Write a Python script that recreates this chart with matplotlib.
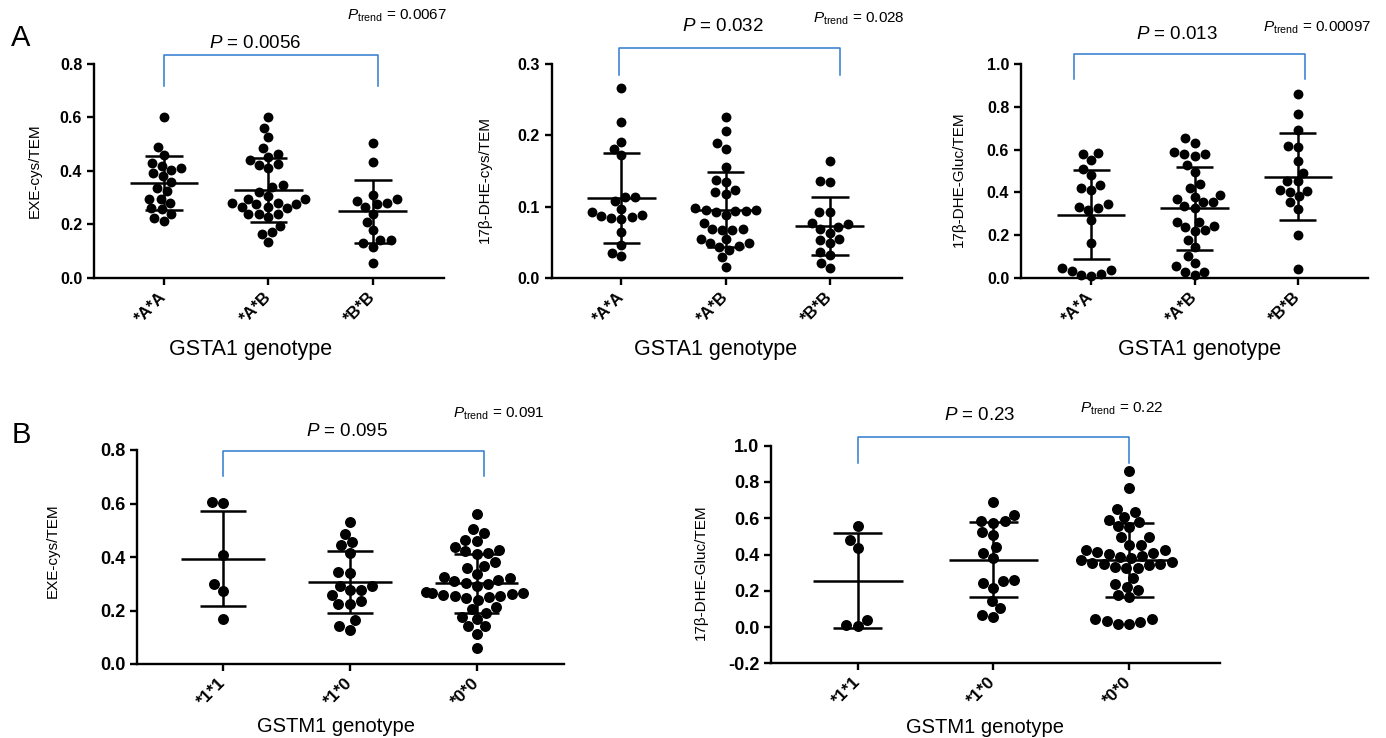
import numpy as np
import matplotlib
matplotlib.use('Agg')
import matplotlib.pyplot as plt
import matplotlib.transforms as mtransforms
import seaborn as sns

plt.rcParams['font.family'] = ['Liberation Sans', 'DejaVu Sans']
plt.rcParams['mathtext.fontset'] = 'custom'
plt.rcParams['mathtext.rm'] = 'Liberation Sans'
plt.rcParams['mathtext.it'] = 'Liberation Sans:italic'
plt.rcParams['mathtext.bf'] = 'Liberation Sans:bold'

# --- categories ---
gsta1_labels = ['*A*A', '*A*B', '*B*B']
gstm1_labels = ['*1*1', '*1*0', '*0*0']

# --- A: EXE-cys/TEM by GSTA1 ---
exe_gsta1_AA = [0.601, 0.489, 0.458, 0.429, 0.411, 0.404, 0.420, 0.391, 0.383, 0.360,
                0.336, 0.326, 0.297, 0.280, 0.296, 0.261, 0.259, 0.241, 0.213, 0.224]
exe_gsta1_AB = [0.603, 0.560, 0.527, 0.486, 0.464, 0.454, 0.427, 0.421, 0.442, 0.411,
                0.346, 0.341, 0.323, 0.307, 0.296, 0.296, 0.280, 0.275, 0.267, 0.261,
                0.267, 0.275, 0.282, 0.239, 0.228, 0.239, 0.239, 0.193, 0.172, 0.164, 0.136]
exe_gsta1_BB = [0.503, 0.433, 0.312, 0.295, 0.280, 0.265, 0.275, 0.287, 0.241, 0.209,
                0.178, 0.143, 0.129, 0.117, 0.143, 0.056]
exe_gsta1_mean = [0.355, 0.329, 0.249]
exe_gsta1_sd = [0.100, 0.121, 0.118]

# --- A: 17b-DHE-cys/TEM by GSTA1 ---
dhecys_gsta1_AA = [0.266, 0.219, 0.190, 0.181, 0.172, 0.113, 0.114, 0.108, 0.097, 0.093,
                   0.089, 0.085, 0.083, 0.084, 0.087, 0.064, 0.046, 0.031, 0.035]
dhecys_gsta1_AB = [0.225, 0.206, 0.189, 0.181, 0.156, 0.138, 0.134, 0.123, 0.118, 0.120,
                   0.096, 0.094, 0.093, 0.089, 0.094, 0.095, 0.098, 0.077, 0.068, 0.067,
                   0.067, 0.068, 0.054, 0.049, 0.043, 0.039, 0.045, 0.049, 0.055, 0.029, 0.016]
dhecys_gsta1_BB = [0.164, 0.136, 0.134, 0.092, 0.092, 0.075, 0.077, 0.072, 0.069, 0.063,
                   0.053, 0.054, 0.049, 0.036, 0.032, 0.021, 0.014]
dhecys_gsta1_mean = [0.112, 0.096, 0.073]
dhecys_gsta1_sd = [0.063, 0.053, 0.041]

# --- A: 17b-DHE-Gluc/TEM by GSTA1 ---
gluc_gsta1_AA = [0.585, 0.552, 0.579, 0.509, 0.482, 0.434, 0.420, 0.411, 0.345, 0.328,
                 0.334, 0.316, 0.272, 0.163, 0.036, 0.019, 0.008, 0.014, 0.034, 0.048]
gluc_gsta1_AB = [0.653, 0.633, 0.591, 0.580, 0.571, 0.579, 0.526, 0.493, 0.439, 0.420,
                 0.389, 0.369, 0.353, 0.378, 0.353, 0.337, 0.327, 0.260, 0.264, 0.241,
                 0.236, 0.218, 0.222, 0.179, 0.145, 0.104, 0.068, 0.054, 0.026, 0.014, 0.026]
gluc_gsta1_BB = [0.858, 0.765, 0.692, 0.610, 0.619, 0.549, 0.490, 0.451, 0.451, 0.407,
                 0.381, 0.401, 0.412, 0.355, 0.323, 0.202, 0.042]
gluc_gsta1_mean = [0.296, 0.327, 0.474]
gluc_gsta1_sd = [0.207, 0.194, 0.202]

# --- B: EXE-cys/TEM by GSTM1 ---
exe_gstm1_11 = [0.606, 0.603, 0.406, 0.300, 0.274, 0.168]
exe_gstm1_10 = [0.529, 0.485, 0.455, 0.443, 0.415, 0.343, 0.342, 0.293, 0.293, 0.257,
                0.275, 0.277, 0.236, 0.223, 0.223, 0.165, 0.143, 0.128]
exe_gstm1_00 = [0.561, 0.504, 0.489, 0.464, 0.458, 0.437, 0.427, 0.421, 0.414, 0.412,
                0.382, 0.367, 0.360, 0.337, 0.327, 0.321, 0.315, 0.309, 0.302, 0.300,
                0.290, 0.271, 0.267, 0.265, 0.263, 0.259, 0.255, 0.253, 0.250, 0.246,
                0.240, 0.212, 0.205, 0.190, 0.175, 0.168, 0.141, 0.141, 0.113, 0.058]
exe_gstm1_mean = [0.394, 0.307, 0.302]
exe_gstm1_sd = [0.179, 0.116, 0.110]

# --- B: 17b-DHE-Gluc/TEM by GSTM1 ---
gluc_gstm1_11 = [0.556, 0.482, 0.437, 0.039, 0.006, 0.011]
gluc_gstm1_10 = [0.692, 0.620, 0.571, 0.585, 0.582, 0.510, 0.525, 0.439, 0.406, 0.380,
                 0.255, 0.259, 0.218, 0.244, 0.145, 0.103, 0.053, 0.066]
gluc_gstm1_00 = [0.861, 0.769, 0.653, 0.635, 0.607, 0.593, 0.580, 0.556, 0.552, 0.494,
                 0.494, 0.453, 0.453, 0.424, 0.424, 0.415, 0.409, 0.402, 0.391, 0.387,
                 0.378, 0.369, 0.360, 0.354, 0.350, 0.347, 0.341, 0.332, 0.328, 0.323,
                 0.273, 0.222, 0.204, 0.237, 0.176, 0.163, 0.042, 0.029, 0.015, 0.015,
                 0.035, 0.046]
gluc_gstm1_mean = [0.255, 0.371, 0.369]
gluc_gstm1_sd = [0.263, 0.207, 0.205]

p_values = ['0.0056', '0.032', '0.013', '0.095', '0.23']
p_trend = ['0.0067', '0.028', '0.00097', '0.091', '0.22']

W, H = 1386, 738
fig = plt.figure(figsize=(W / 100, H / 100), dpi=100)
BLUE = '#2f7bcf'


def px_rect(x0, y_top, x1, y_bot):
    return [x0 / W, 1 - y_bot / H, (x1 - x0) / W, (y_bot - y_top) / H]


def panel(rect, groups, labels, mean, sd, ylabel, xlabel, yticks, xlim, pval, ptr, lay,
          ytick_fs=11.5, xtick_fs=12, xlab_fs=15.5, dot=7.1):
    ax = fig.add_axes(rect)
    xs, ys = [], []
    for lab, g in zip(labels, groups):
        xs += [lab] * len(g)
        ys += list(g)
    sns.swarmplot(x=xs, y=ys, order=labels, color='black', size=dot, ax=ax,
                  zorder=3, clip_on=False, warn_thresh=1.0)
    for i, (m, s) in enumerate(zip(mean, sd)):
        ax.hlines(m, i - 0.33, i + 0.33, color='black', lw=1.8, zorder=4)
        ax.vlines(i, m - s, m + s, color='black', lw=1.8, zorder=4)
        ax.hlines([m - s, m + s], i - 0.18, i + 0.18, color='black', lw=1.8, zorder=4)

    ax.set_xlim(*xlim)
    ax.set_ylim(yticks[0], yticks[-1])
    ax.set_yticks(yticks)
    ax.set_yticklabels([f'{t:.1f}' for t in yticks], fontweight='bold', fontsize=ytick_fs)
    ax.set_xticks(range(len(labels)))
    ax.set_xticklabels(labels, rotation=45, ha='right', va='center',
                       rotation_mode='anchor', fontweight='bold', fontsize=xtick_fs)
    for side in ['top', 'right']:
        ax.spines[side].set_visible(False)
    for side in ['left', 'bottom']:
        ax.spines[side].set_linewidth(1.7)
    ax.tick_params(direction='out', length=5, width=1.7)
    ax.tick_params(axis='x', pad=7)

    ax.set_ylabel(ylabel, fontsize=11)
    ax.yaxis.set_label_coords(*lay['ylab'])
    ax.yaxis.label.set_va('center')
    ax.set_xlabel(xlabel, fontsize=xlab_fs)
    ax.xaxis.set_label_coords(*lay['xlab'])
    ax.xaxis.label.set_va('center')

    trans = mtransforms.blended_transform_factory(ax.transData, ax.transAxes)
    bx0, bx1, btop, bbot = lay['bracket']
    ax.plot([bx0, bx0, bx1, bx1], [bbot, btop, btop, bbot], color=BLUE, lw=1.1,
            transform=trans, clip_on=False)
    ax.text(lay['p'][0], lay['p'][1], r'$\mathit{P}$ = ' + pval, transform=trans,
            ha='center', va='center', fontsize=13.5)
    ax.text(lay['trend'][0], lay['trend'][1], r'$\mathit{P}_{\mathrm{trend}}$ = ' + ptr,
            transform=ax.transAxes, ha='right', va='center', fontsize=11)
    return ax


panel(px_rect(94, 64, 444, 278), [exe_gsta1_AA, exe_gsta1_AB, exe_gsta1_BB], gsta1_labels,
      exe_gsta1_mean, exe_gsta1_sd, 'EXE-cys/TEM', 'GSTA1 genotype',
      [0.0, 0.2, 0.4, 0.6, 0.8], (-0.67, 2.68), p_values[0], p_trend[0],
      dict(ylab=(-0.169, 0.5), xlab=(0.446, -0.336), bracket=(0.0, 2.05, 1.042, 0.897),
           p=(0.87, 1.098), trend=(1.01, 1.224)))

panel(px_rect(551.7, 64, 901.7, 278), [dhecys_gsta1_AA, dhecys_gsta1_AB, dhecys_gsta1_BB],
      gsta1_labels, dhecys_gsta1_mean, dhecys_gsta1_sd, '17β-DHE-cys/TEM', 'GSTA1 genotype',
      [0.0, 0.1, 0.2, 0.3], (-0.67, 2.69), p_values[1], p_trend[1],
      dict(ylab=(-0.19, 0.46), xlab=(0.467, -0.336), bracket=(-0.02, 2.1, 1.075, 0.949),
           p=(0.97, 1.173), trend=(1.01, 1.21)))

panel(px_rect(1021, 64, 1368, 278), [gluc_gsta1_AA, gluc_gsta1_AB, gluc_gsta1_BB],
      gsta1_labels, gluc_gsta1_mean, gluc_gsta1_sd, '17β-DHE-Gluc/TEM', 'GSTA1 genotype',
      [0.0, 0.2, 0.4, 0.6, 0.8, 1.0], (-0.68, 2.68), p_values[2], p_trend[2],
      dict(ylab=(-0.18, 0.46), xlab=(0.516, -0.336), bracket=(-0.17, 2.07, 1.047, 0.93),
           p=(0.83, 1.14), trend=(1.009, 1.168)))

panel(px_rect(137, 450, 564, 664), [exe_gstm1_11, exe_gstm1_10, exe_gstm1_00],
      gstm1_labels, exe_gstm1_mean, exe_gstm1_sd, 'EXE-cys/TEM', 'GSTM1 genotype',
      [0.0, 0.2, 0.4, 0.6, 0.8], (-0.68, 2.69), p_values[3], p_trend[3],
      dict(ylab=(-0.197, 0.53), xlab=(0.467, -0.294), bracket=(0.0, 2.06, 0.997, 0.88),
           p=(0.98, 1.085), trend=(0.955, 1.17)),
      ytick_fs=13, xtick_fs=12.5, xlab_fs=14.5, dot=7.9)

panel(px_rect(771, 445.7, 1220, 663.3), [gluc_gstm1_11, gluc_gstm1_10, gluc_gstm1_00],
      gstm1_labels, gluc_gstm1_mean, gluc_gstm1_sd, '17β-DHE-Gluc/TEM', 'GSTM1 genotype',
      [-0.2, 0.0, 0.2, 0.4, 0.6, 0.8, 1.0], (-0.64, 2.67), p_values[4], p_trend[4],
      dict(ylab=(-0.156, 0.42), xlab=(0.477, -0.293), bracket=(0.0, 2.0, 1.041, 0.919),
           p=(0.9, 1.138), trend=(0.873, 1.169)),
      ytick_fs=13, xtick_fs=12.5, xlab_fs=14.5, dot=7.9)

fig.text(21 / W, 1 - 38 / H, 'A', fontsize=21, ha='center', va='center')
fig.text(21 / W, 1 - 435 / H, 'B', fontsize=21, ha='center', va='center')

fig.savefig('out.png', dpi=100)
